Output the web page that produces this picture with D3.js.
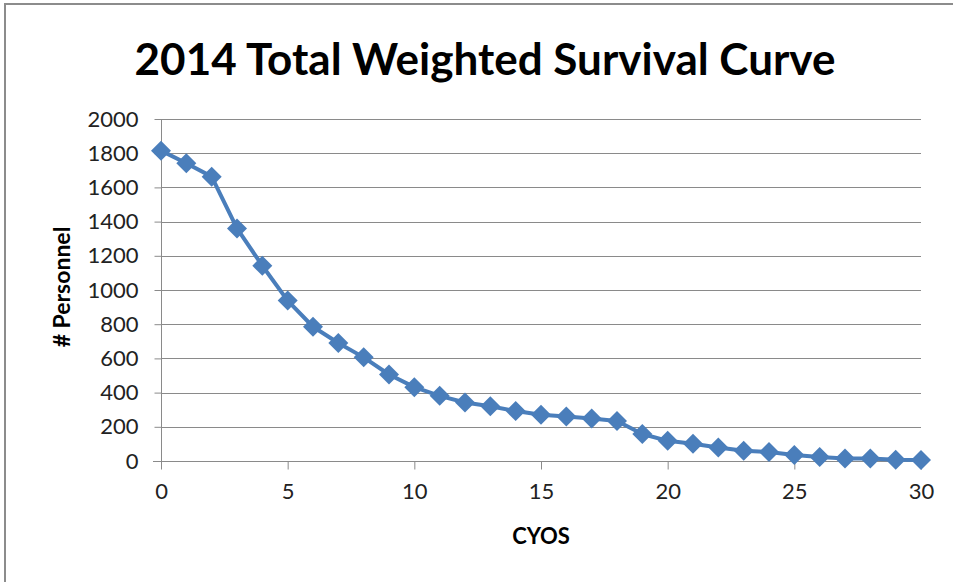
<!DOCTYPE html>
<html><head><meta charset="utf-8">
<script src="https://cdn.jsdelivr.net/npm/d3@7"></script>
<style>body{margin:0;background:#fff}svg{display:block}</style>
</head><body>
<svg id="c" width="953" height="582"></svg>
<script>
const years = d3.range(0, 31);
const personnel = [1815,1741,1663,1360,1142,938,785,690,606,506,432,381,342,320,292,271,260,248,234,158,118,101,79,60,53,35,24,14,15,8,6];
const xTicks = [0,5,10,15,20,25,30];
const yTicks = [0,200,400,600,800,1000,1200,1400,1600,1800,2000];
const title = "2014 Total Weighted Survival Curve";
const xTitle = "CYOS";
const yTitle = "# Personnel";

const svg = d3.select("#c");
const font = "Lato, 'Open Sans', sans-serif";
const L = 161, R = 921, T = 119, B = 461;
const x = d3.scaleLinear().domain([0,30]).range([L,R]);
const y = d3.scaleLinear().domain([0,2000]).range([B,T]);

svg.append("rect").attr("x",5).attr("y",4).attr("width",960).attr("height",600)
  .attr("fill","#fff").attr("stroke","#8c8c8c").attr("stroke-width",2);

svg.append("text").attr("x",485).attr("y",75).attr("text-anchor","middle")
  .attr("font-family",font).attr("font-weight","bold").attr("font-size",44).attr("fill","#000").text(title);

// gridlines
svg.append("g").selectAll("line").data(yTicks.filter(d=>d>0)).join("line")
  .attr("x1",L).attr("x2",R).attr("y1",d=>Math.round(y(d))+0.5).attr("y2",d=>Math.round(y(d))+0.5)
  .attr("stroke","#8a8a8a").attr("stroke-width",1);

const ya = svg.append("g").attr("transform",`translate(${L+0.5},0)`)
  .call(d3.axisLeft(y).tickValues(yTicks).tickSize(7).tickPadding(16).tickFormat(d3.format("d")));
ya.select(".domain").attr("stroke","#8a8a8a").attr("d",`M0,${T}V${B}`);
ya.selectAll(".tick line").attr("stroke","#8a8a8a");
ya.selectAll("text").attr("font-family",font).attr("font-size",22).attr("fill","#222");

const xa = svg.append("g").attr("transform",`translate(0,${B+0.5})`)
  .call(d3.axisBottom(x).tickValues(xTicks).tickSize(8).tickPadding(14).tickFormat(d3.format("d")));
xa.select(".domain").attr("stroke","#8a8a8a").attr("d",`M${L-8},0H${R}`);
xa.selectAll(".tick line").attr("stroke","#8a8a8a");
xa.selectAll("text").attr("font-family",font).attr("font-size",22).attr("fill","#222");

svg.append("text").attr("x",541).attr("y",544).attr("text-anchor","middle")
  .attr("font-family",font).attr("font-weight","bold").attr("font-size",22).text(xTitle);
svg.append("text").attr("transform","translate(70,287) rotate(-90)").attr("text-anchor","middle")
  .attr("font-family",font).attr("font-weight","bold").attr("font-size",23).text(yTitle);

const data = years.map((d,i)=>({x:d,y:personnel[i]}));
svg.append("path").datum(data)
  .attr("d",d3.line().x(d=>x(d.x)).y(d=>y(d.y)))
  .attr("fill","none").attr("stroke","#4a7ebb").attr("stroke-width",4).attr("stroke-linejoin","round");
svg.append("g").selectAll("path").data(data).join("path")
  .attr("transform",d=>`translate(${x(d.x)},${y(d.y)})`)
  .attr("d","M0,-10L10,0L0,10L-10,0Z").attr("fill","#4a7ebb");
</script>
</body></html>
